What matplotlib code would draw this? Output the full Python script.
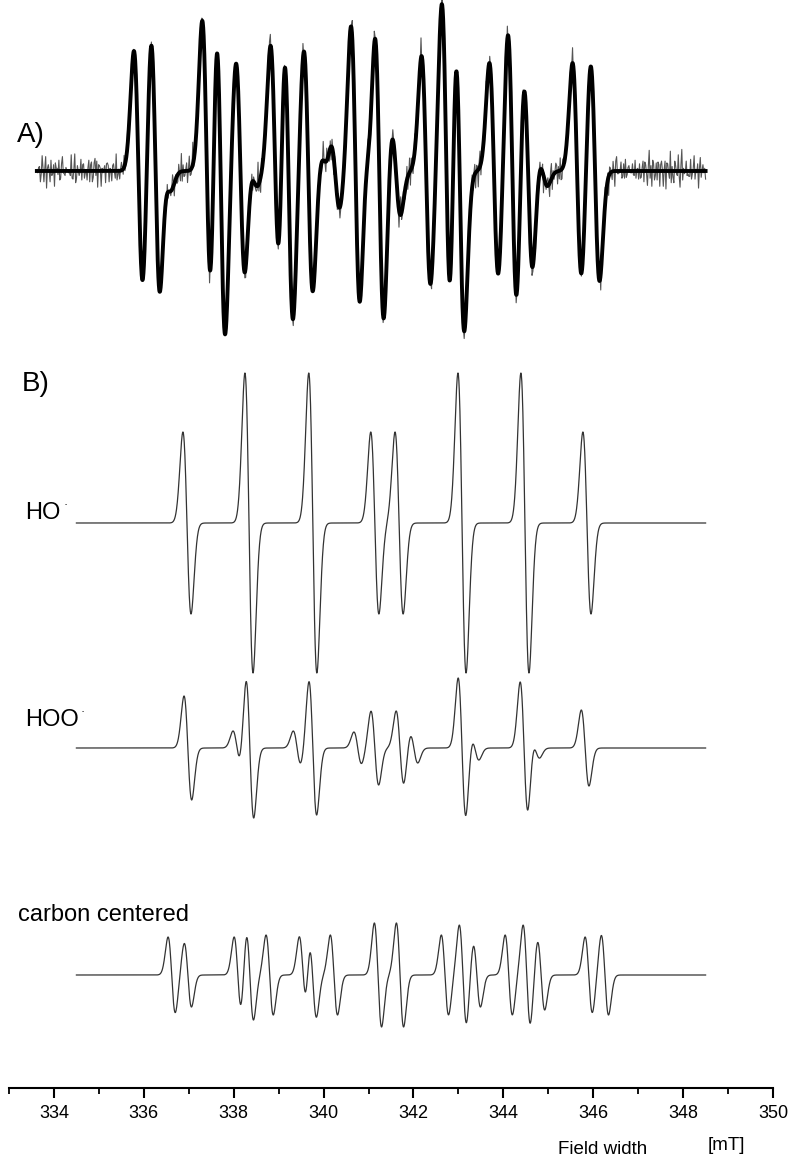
import numpy as np
import matplotlib
matplotlib.use("Agg")
import matplotlib.pyplot as plt

plt.rcParams['font.family'] = ['Liberation Sans', 'DejaVu Sans']

W, H = 791, 1164  # output size in pixels

# ---- line lists: centre field [mT], derivative amplitude ----
# A) measured spectrum (fitted lines)
exp_field = [335.88, 336.26, 336.51, 337.40, 337.71, 338.15, 338.43, 338.92, 339.22,
             339.66, 340.03, 340.26, 340.71, 340.99, 341.24, 341.61, 342.28, 342.73,
             343.03, 343.79, 344.20, 344.55, 344.88, 345.64, 346.04]
exp_amp = [120, 135, 18, 150, 165, 110, 15, 125, 150,
           122, 15, 38, 145, 25, 152, 44, 115, 168,
           160, 108, 140, 100, 15, 108, 110]

# B) simulated adducts
ho_field = [336.96, 338.34, 339.76, 341.14, 341.68, 343.08, 344.48, 345.86]
ho_amp = [91, 150, 150, 91, 91, 150, 150, 91]

hoo_field = [336.98, 338.07, 338.36, 339.41, 339.76, 340.76, 341.14, 341.70,
             342.01, 343.08, 343.37, 344.46, 344.72, 345.82]
hoo_amp = [52, 17, 70, 17, 67, 16, 37, 37, 15, 70, 12, 66, 10, 38]

c_field = [336.62, 336.98, 338.09, 338.36, 338.80, 339.54, 339.76, 340.23, 341.21,
           341.70, 342.70, 343.10, 343.41, 344.12, 344.52, 344.84, 345.90, 346.26]
c_amp = [38, 32, 38, 45, 40, 38, 42, 40, 52, 52, 40, 50, 32, 40, 50, 35, 38, 40]

# noise on the measured trace (two short hand-written runs, tiled)
noise_a = [3, -6, 9, -2, -11, 5, 14, -4, -8, 2, 7, -13, 1, 10, -5, -3, 12, -9, 4,
           -1, -15, 6, 8, -7, 0, 11, -4, -10, 3, 18, -6, 2, -12, 5, 9, -2, -8]
noise_b = [-2, 4, -5, 7, -1, -8, 3, 6, -4, 1, 9, -6, 2, -3, 5, -9, 0, 4, -7, 8,
           -2, 3, -5, 10, -4, 1, -6, 2, 5]

exp_sweep = (333.62, 348.50)
sim_sweep = (334.50, 348.50)

tick_majors = list(range(334, 351, 2))
tick_minors = list(range(333, 351, 1))


# first-derivative Gaussian lines, positive lobe on the low-field side
def derivative(field, centres, amps, sigma):
    out = np.zeros_like(field)
    for b0, a in zip(centres, amps):
        u = (field - b0) / sigma
        out += -a * np.sqrt(np.e) * u * np.exp(-0.5 * u ** 2)
    return out


def tiled_noise(n):
    a = np.resize(np.array(noise_a, float), n)
    b = np.resize(np.array(noise_b, float), n)
    return 0.9 * (a + b)


fig = plt.figure(figsize=(W / 100, H / 100), dpi=100)
ax = fig.add_axes([9 / W, 76 / H, 764 / W, 1088 / H])
ax.set_xlim(333, 350)
ax.set_ylim(1088, 0)  # y in picture rows, baselines below

# A) measured (thin, noisy) and fit (thick)
b_exp = np.linspace(*exp_sweep, 760)
b_fit = np.linspace(*exp_sweep, 3000)
ax.plot(b_exp, 171 - derivative(b_exp, exp_field, exp_amp, 0.1) - tiled_noise(len(b_exp)),
        color='#555555', lw=0.8)
ax.plot(b_fit, 171 - derivative(b_fit, exp_field, exp_amp, 0.1), color='black', lw=2.8)

# B) simulations
b_sim = np.linspace(*sim_sweep, 3000)
ax.plot(b_sim, 523 - derivative(b_sim, ho_field, ho_amp, 0.09), color='#333333', lw=0.9)
ax.plot(b_sim, 748 - derivative(b_sim, hoo_field, hoo_amp, 0.085), color='#333333', lw=0.9)
ax.plot(b_sim, 975 - derivative(b_sim, c_field, c_amp, 0.08), color='#333333', lw=0.9)

# only the field axis is shown
for side in ('left', 'right', 'top'):
    ax.spines[side].set_visible(False)
ax.spines['bottom'].set_linewidth(1.5)
ax.set_yticks([])
ax.set_xticks(tick_majors)
ax.set_xticks([t for t in tick_minors if t not in tick_majors], minor=True)
ax.tick_params(axis='x', which='major', direction='out', length=7, width=1.5,
               labelsize=13, pad=5)
ax.tick_params(axis='x', which='minor', direction='out', length=4, width=1.3)


# labels (placed in picture pixels)
def label(x, y, s, size, ha='left'):
    fig.text(x / W, 1 - y / H, s, fontsize=size, va='center', ha=ha)


label(17, 135, 'A)', 20)
label(22, 384, 'B)', 20)
label(25, 513, 'HO', 17)
label(66, 505, '\u00b7', 9, ha='center')
label(25, 720, 'HOO', 17)
label(83, 712, '\u00b7', 9, ha='center')
label(18, 915, 'carbon centered', 17)
label(558, 1150, 'Field width', 13.5)
label(708, 1145, '[mT]', 13.5)

fig.savefig('out.png', dpi=100)
